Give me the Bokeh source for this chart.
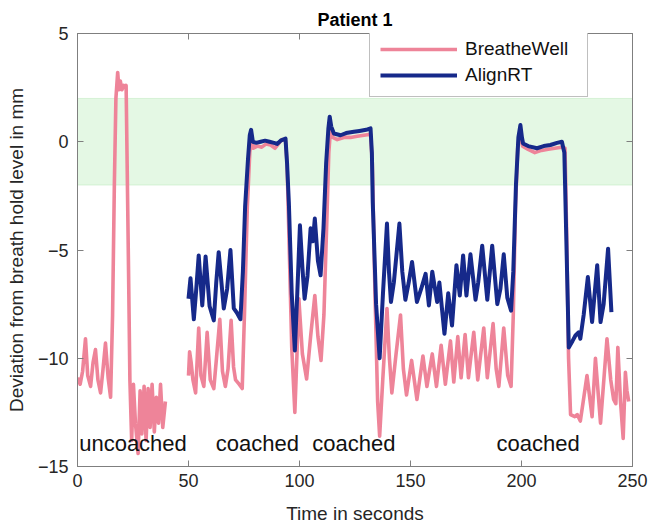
from bokeh.plotting import figure
from bokeh.models import (BoxAnnotation, Legend, LegendItem, LinearAxis,
                          Range1d, ColumnDataSource, FixedTicker)
from bokeh.core.properties import value
from bokeh.embed import file_html
from bokeh.resources import INLINE

nan = float("nan")

# ---------------- data ----------------
bw_t = [0, 1.2, 2.3, 3.6, 4.6, 5.9, 7.0, 8.1, 9.2, 10.4, 11.5, 12.6, 13.8, 14.9,
        15.8, 16.6, 17.3, 18.1, 18.7, 19.3, 20.0, 20.8, 21.5, 21.9, 23.0, 23.6,
        24.4, 25.2, 26.1, 27.3, 28.2, 29.0, 30.0, 30.9, 31.8, 32.7, 33.6,
        34.6, 35.5, 36.5, 37.4, 38.4, 39.6,
        nan,
        50.0, 50.5, 51.2, 52.0, 53.2, 54.6, 55.6, 56.9, 58.4, 59.8, 61.4, 62.6,
        64.1, 65.3, 66.6, 67.8, 69.2, 70.3, 71.2, 72.8, 74.2, 75.2, 76.5, 77.6,
        78.4, 79.2, 81.0, 83.0, 85.0, 87.0, 89.0, 90.5, 92.0, 93.7, 94.4, 95.4,
        96.5, 97.9, 98.8, 99.7, 101.3, 103.2, 105.0, 106.9, 108.3, 109.7, 111.0,
        112.2, 113.2, 114.0, 115.0, 117, 120, 123, 126, 129, 132, 132.8, 134.0,
        135.2, 136.1, 137.5, 139.4, 140.5, 141.6, 143.5, 145.5, 146.8, 148.2,
        150.5, 152.9, 155.6, 157.4, 159.8, 161.7, 163.8, 165.7, 168.0, 169.5,
        171.3, 172.8, 174.6, 176.1, 178.5, 180.3, 183.0, 184.6, 187.2, 188.6,
        189.8, 192.0, 193.8, 195.3, 196.3, 197.3, 198.3, 199.3, 200.5, 203, 206,
        209, 212, 215, 218, 219.6, 220.3, 221.2, 222.1, 224.0, 225.1, 226.5,
        227.8, 229.5, 231.8, 233.3, 235.6, 238.5, 240.2, 241.5, 242.5, 243.4,
        244.6, 245.8, 246.8, 247.5, 248.3]
bw_y = [-10.9, -11.2, -10.6, -9.1, -10.8, -11.3, -10.2, -9.6, -11.0, -11.6, -10.5,
        -9.3, -10.9, -11.8, -8.0, -2.0, 2.0, 3.2, 2.4, 2.8, 2.4, 2.6, 2.5, 2.6,
        -6.0, -11.0, -13.8, -11.2, -13.0, -14.4, -11.5, -13.5, -11.3, -13.8,
        -11.4, -13.2, -11.2, -13.4, -11.8, -13.0, -11.2, -13.2, -12.0,
        nan,
        -10.8, -9.7, -10.2, -11.0, -11.6, -8.6, -10.8, -11.3, -8.8, -11.0, -11.4,
        -10.0, -8.2, -10.6, -11.3, -10.5, -8.25, -10.4, -11.0, -11.2, -11.4, -8.0,
        -3.0, -0.5, 0.3, -0.3, -0.2, -0.25, -0.1, -0.15, -0.3, -0.1, 0.1, 0.05,
        -1.0, -5.0, -9.5, -12.5, -10.0, -7.25, -9.8, -10.96, -9.0, -7.1, -9.0,
        -10.1, -8.0, -4.0, -0.5, 0.6, 0.2, 0.1, 0.2, 0.2, 0.25, 0.3, 0.35, -1.0,
        -7.0, -12.0, -13.6, -11.0, -7.7, -10.0, -11.6, -9.8, -8.0, -10.5, -11.7,
        -10.1, -11.9, -9.9, -11.3, -9.8, -11.3, -9.4, -11.2, -9.2, -11.1, -9.0,
        -10.9, -8.9, -10.9, -8.8, -11.0, -8.6, -10.9, -8.4, -10.5, -11.3, -8.6,
        -10.8, -11.3, -8.0, -3.0, -0.3, 0.4, -0.2, -0.35, -0.5, -0.4, -0.35,
        -0.3, -0.25, -0.3, -4.0, -10.0, -12.6, -12.7, -12.6, -12.9, -12.0, -10.8,
        -12.7, -10.0, -13.0, -9.1, -11.0, -11.9, -12.1, -9.5, -12.0, -13.7,
        -10.65, -11.5, -12.0]

art_t = [50.0, 50.9, 52.4, 53.5, 54.6, 56.2, 57.7, 59.5, 61.4, 62.5, 63.6, 65.9,
         67.4, 68.9, 70.4, 71.8, 73.4, 74.5, 75.5, 76.8, 77.6, 78.2, 79.0, 80.5,
         82.5, 84.5, 86.5, 88.5, 89.9, 91.5, 93.7, 94.4, 95.2, 96.5, 97.9, 99.0,
         100.2, 101.3, 102.3, 103.6, 105.0, 106.0, 106.9, 108.3, 109.5, 110.8,
         112.0, 113.0, 113.6, 114.3, 115.5, 118.5, 121.0, 124.5, 127.0, 130.0,
         132.0, 132.6, 133.0, 134.5, 136.1, 137.6, 139.4, 140.3, 141.2, 142.5,
         145.0, 146.3, 147.7, 149.2, 150.7, 152.9, 154.8, 156.8, 158.3, 159.8,
         162.0, 163.0, 165.3, 167.0, 168.7, 170.7, 172.2, 173.7, 175.2, 177.0,
         179.3, 180.5, 182.3, 184.6, 186.8, 189.1, 190.5, 192.0, 193.6, 195.3,
         196.3, 197.5, 198.6, 199.5, 200.2, 200.7, 203, 207, 210, 213, 216, 218.2,
         219.3, 220.3, 221.3, 223.0, 224.3, 225.8, 226.5, 228.0, 229.9, 231.8,
         234.1, 235.6, 237.0, 239.0, 240.5]
art_y = [-7.25, -6.3, -8.2, -6.8, -5.25, -7.56, -5.3, -7.6, -8.25, -6.5, -5.1,
         -7.7, -6.8, -5.0, -7.7, -7.9, -8.2, -6.0, -3.0, -0.8, 0.3, 0.55, 0.0,
         -0.05, 0.0, 0.05, 0.0, -0.05, -0.1, 0.05, 0.15, -1.0, -2.8, -7.0, -9.64,
         -7.0, -3.86, -5.8, -7.25, -6.2, -4.0, -4.6, -3.55, -5.5, -6.17, -4.0,
         -1.0, 0.6, 1.16, 0.7, 0.38, 0.3, 0.4, 0.46, 0.5, 0.55, 0.62, -0.5, -2.8,
         -7.5, -10.0, -7.0, -3.78, -6.0, -7.4, -6.5, -3.78, -6.0, -7.3, -6.5,
         -5.55, -7.4, -6.8, -6.1, -7.56, -6.0, -7.4, -6.5, -8.87, -7.0, -8.49,
         -5.7, -7.1, -5.25, -7.1, -5.2, -7.3, -6.5, -4.8, -7.3, -4.8, -7.5, -6.8,
         -5.2, -7.2, -7.8, -6.0, -2.0, 0.2, 0.77, 0.2, -0.08, -0.2, -0.3, -0.2,
         -0.15, -0.05, 0.0, -0.5, -5.0, -9.5, -9.2, -8.95, -8.8, -9.1, -8.0,
         -6.25, -8.33, -5.7, -8.33, -7.5, -4.94, -7.87]

band_low, band_high = -2, 2
x_ticks = [0, 50, 100, 150, 200, 250]
y_ticks = [-15, -10, -5, 0, 5]

phase_labels = ["uncoached", "coached", "coached", "coached"]
phase_x = [25, 81, 124.5, 207.5]
phase_y = [-13.95, -13.95, -13.95, -13.95]

PINK = "#EE8499"
NAVY = "#16298A"
FONT = "Liberation Sans"
TXT = "#262626"
AX = "#7f7f7f"

p = figure(width=650, height=529, output_backend="svg", toolbar_location=None,
           x_range=Range1d(0, 250), y_range=Range1d(-15, 5),
           min_border_left=77, min_border_right=18, min_border_top=33,
           min_border_bottom=63)
p.background_fill_color = "white"
p.border_fill_color = "white"
p.grid.visible = False
p.outline_line_color = AX
p.outline_line_width = 1

p.title.text = "Patient 1"
p.title.align = "center"
p.title.text_font = FONT
p.title.text_font_size = "18px"
p.title.text_font_style = "bold"
p.title.text_color = "#000000"
p.title.standoff = 8

band = BoxAnnotation(bottom=band_low, top=band_high, fill_color="#e4f8e4",
                     fill_alpha=1.0, line_color="#96dc96", line_width=1,
                     level="underlay")
p.add_layout(band)

for ax in (p.xaxis[0], p.yaxis[0]):
    ax.axis_line_color = AX
    ax.major_tick_line_color = AX
    ax.major_tick_in = 6
    ax.major_tick_out = 0
    ax.minor_tick_line_color = None
    ax.major_label_text_font = FONT
    ax.major_label_text_font_size = "18px"
    ax.major_label_text_color = TXT
    ax.axis_label_text_font = FONT
    ax.axis_label_text_font_size = "19px"
    ax.axis_label_text_font_style = "normal"
    ax.axis_label_text_color = TXT
p.xaxis[0].ticker = FixedTicker(ticks=x_ticks)
p.yaxis[0].ticker = FixedTicker(ticks=y_ticks)
p.xaxis[0].axis_label = "Time in seconds"
p.yaxis[0].axis_label = "Deviation from breath hold level in mm"
p.xaxis[0].major_label_standoff = 7
p.yaxis[0].major_label_standoff = 9
p.xaxis[0].axis_label_standoff = 13
p.yaxis[0].axis_label_standoff = 8

top_ax = LinearAxis(ticker=FixedTicker(ticks=x_ticks), major_label_text_font_size="0px",
                    major_tick_in=6, major_tick_out=0, minor_tick_line_color=None,
                    axis_line_color=AX, major_tick_line_color=AX, major_label_standoff=0)
right_ax = LinearAxis(ticker=FixedTicker(ticks=y_ticks), major_label_text_font_size="0px",
                      major_tick_in=6, major_tick_out=0, minor_tick_line_color=None,
                      axis_line_color=AX, major_tick_line_color=AX, major_label_standoff=0)
p.add_layout(top_ax, "above")
p.add_layout(right_ax, "right")

r_bw = p.line(bw_t, bw_y, line_color=PINK, line_width=3.6, line_join="round")
r_art = p.line(art_t, art_y, line_color=NAVY, line_width=4.0, line_join="round")

src = ColumnDataSource(dict(x=phase_x, y=phase_y, t=phase_labels))
p.text(x="x", y="y", text="t", source=src, text_font=value(FONT),
       text_font_size="22px", text_color="#111111", text_align="center",
       text_baseline="middle")

legend = Legend(items=[LegendItem(label="BreatheWell", renderers=[r_bw]),
                       LegendItem(label="AlignRT", renderers=[r_art])],
                location=(292, 369))
legend.label_text_font = FONT
legend.label_text_font_size = "19px"
legend.label_text_color = "#111111"
legend.glyph_width = 77
legend.glyph_height = 22
legend.label_height = 22
legend.label_width = 112
legend.label_standoff = 8
legend.padding = 10
legend.spacing = 4
legend.margin = 0
legend.border_line_color = AX
legend.border_line_width = 1
legend.background_fill_color = "white"
legend.background_fill_alpha = 1.0
p.add_layout(legend, "center")

open("out.html", "w").write(file_html(p, INLINE))
